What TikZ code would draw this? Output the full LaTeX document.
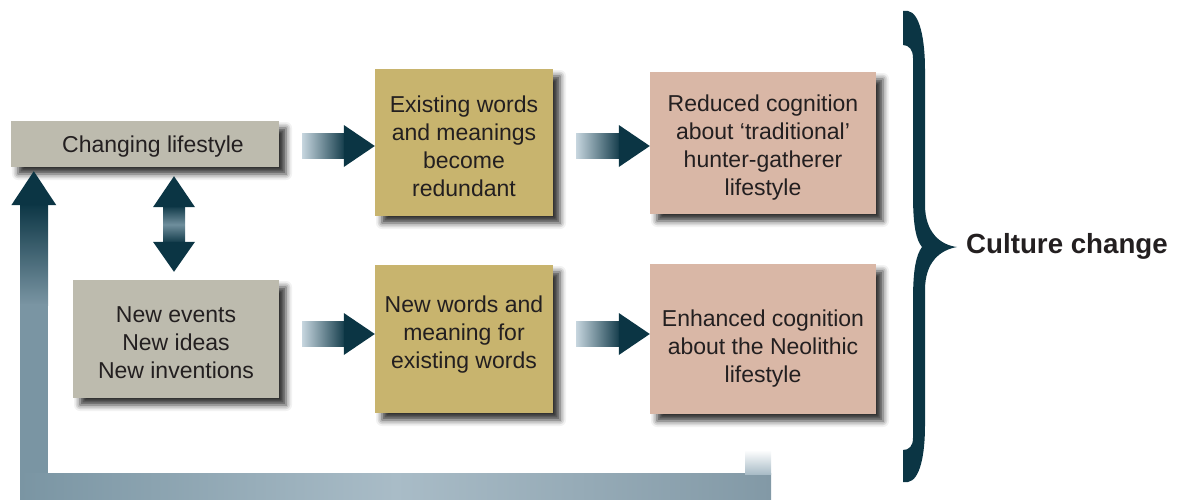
\documentclass[tikz,border=0pt]{standalone}
\usepackage{fontspec}
\setmainfont{Liberation Sans}
\usetikzlibrary{calc,shadows.blur}
\definecolor{boxgray}{HTML}{BDBBAE}
\definecolor{boxolive}{HTML}{C8B46E}
\definecolor{boxpink}{HTML}{D9B7A6}
\definecolor{txt}{HTML}{231F20}
\definecolor{adark}{HTML}{0B3544}
\definecolor{alight}{HTML}{C6D5DE}
\definecolor{amid}{HTML}{6F8E9C}
\definecolor{loopc}{HTML}{7A95A3}
\definecolor{loopr}{HTML}{8299A6}
\definecolor{looplight}{HTML}{A9BCC7}
\newcommand{\harrow}[3]{%
  \coordinate (tip) at (#2.west |- 0,#3);
  \coordinate (tail) at ($(#1.east |- 0,#3)+(23,0)$);
  \shade[left color=alight, right color=adark] ($(tail)+(0,-12.5)$) rectangle ($(tip)+(-28,12.5)$);
  \fill[adark] ($(tip)+(-31,-12.5)$) -- ($(tip)+(-31,-21)$) -- (tip) -- ($(tip)+(-31,21)$) -- ($(tip)+(-31,12.5)$) -- cycle;
}
\begin{document}
\begin{tikzpicture}[x=1pt,y=-1pt,
  card/.style={inner sep=0pt,
    blur shadow={shadow xshift=7pt,shadow yshift=-7pt,shadow blur radius=6pt,shadow opacity=80}},
  cardtext/.style={inner sep=0pt, align=center, text=txt,
    font=\fontsize{23}{28}\selectfont},
  label/.style={inner sep=0pt, text=txt, font=\fontsize{27.7}{32}\selectfont\bfseries}]
\useasboundingbox (0,0) rectangle (1182,500);

% feedback loop (behind)
\shade[top color=adark, bottom color=loopc] (20,203) rectangle (48,305);
\fill[loopc] (20,304) rectangle (48,474);
\shade[left color=loopc, right color=loopr, middle color=looplight] (20,473) rectangle (771,500);
\shade[top color=white, bottom color=looplight] (745,450) rectangle (771,474);
\coordinate (loopend) at (758,450);

% boxes
\node[card, fill=boxgray, minimum width=268pt, minimum height=46pt] (cl) at (145,144) {};
\node[card, fill=boxgray, minimum width=206pt, minimum height=118pt] (ne) at (176,339) {};
\node[card, fill=boxolive, minimum width=178pt, minimum height=147pt] (ew) at (464,142.5) {};
\node[card, fill=boxolive, minimum width=178pt, minimum height=148pt] (nw) at (464,339) {};
\node[card, fill=boxpink, minimum width=226pt, minimum height=142pt] (rc) at (763,143) {};
\node[card, fill=boxpink, minimum width=226pt, minimum height=150pt] (ec) at (763,339) {};

% texts
\node[cardtext] (clt) at ($(cl.center)+(8,3)$) {Changing lifestyle};
\node[cardtext] (net) at ($(ne.center)+(0,4)$) {New events\\New ideas\\New inventions};
\node[cardtext] (ewt) at ($(ew.center)+(0,3.5)$) {Existing words\\and meanings\\become\\redundant};
\node[cardtext] (nwt) at ($(nw.center)+(0,-4)$) {New words and\\meaning for\\existing words};
\node[cardtext] (rct) at ($(rc.center)+(0,5)$) {Reduced cognition\\about ‘traditional’\\hunter-gatherer\\lifestyle};
\node[cardtext] (ect) at ($(ec.center)+(0,10)$) {Enhanced cognition\\about the Neolithic\\lifestyle};

% loop head into Changing lifestyle
\coordinate (looptip) at ($(cl.south west)+(23,4)$);
\fill[adark] ($(looptip)+(-22.5,34)$) -- (looptip) -- ($(looptip)+(22.5,34)$) -- cycle;

% horizontal arrows
\harrow{cl}{ew}{146}
\harrow{ew}{rc}{146}
\harrow{ne}{nw}{334}
\harrow{nw}{ec}{334}

% double vertical arrow
\coordinate (dt) at ($(cl.south -| ne.north)+(-2,9)$);
\coordinate (db) at ($(ne.north)+(-2,-8)$);
\shade[top color=adark, bottom color=adark, middle color=amid] ($(dt)+(-11,29)$) rectangle ($(db)+(11,-28)$);
\fill[adark] ($(dt)+(-21,31)$) -- (dt) -- ($(dt)+(21,31)$) -- cycle;
\fill[adark] ($(db)+(-21,-30)$) -- (db) -- ($(db)+(21,-30)$) -- cycle;

% brace
\fill[adark] (903,11) -- (908,11) .. controls (920,13) and (925,40) .. (925,70)
  -- (925,205) .. controls (925,232) and (940,245) .. (957,247)
  .. controls (940,250) and (925,262) .. (925,290)
  -- (925,425) .. controls (925,455) and (920,480) .. (908,482)
  -- (903,482) -- (903,450) .. controls (909,450) and (913,446) .. (913,438)
  -- (913,300) .. controls (913,270) and (916,255) .. (922,247)
  .. controls (916,240) and (913,225) .. (913,195)
  -- (913,58) .. controls (913,50) and (909,45) .. (903,45) -- cycle;
\node[label, anchor=west] (cc) at (966,246) {Culture change};
\end{tikzpicture}
\end{document}
